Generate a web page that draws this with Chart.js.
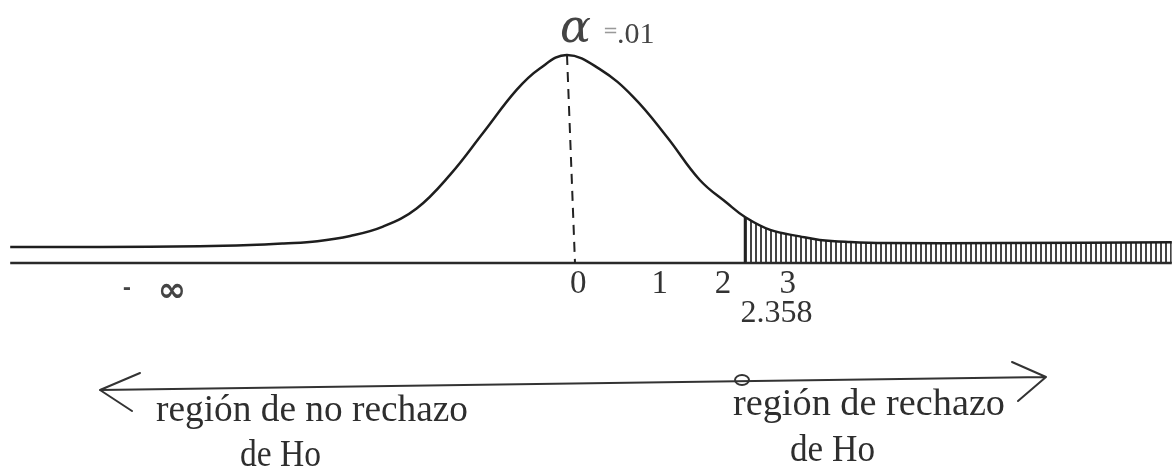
<!DOCTYPE html>
<html>
<head>
<meta charset="utf-8">
<script src="https://cdn.jsdelivr.net/npm/chart.js@4"></script>
<style>
  html, body { margin: 0; padding: 0; background: #ffffff; }
  #wrap { width: 1176px; height: 469px; position: relative; }
</style>
</head>
<body>
<div id="wrap"><canvas id="c"></canvas></div>
<script>
// ---- data ----
const curveX = [-6.96, -5.84, -4.59, -3.96, -3.54, -3.12, -2.71, -2.30, -1.88, -1.46, -1.05, -0.63, -0.34, 0, 0.41, 0.83, 1.25, 1.66, 2.00, 2.225, 2.54, 2.91, 3.16, 3.54, 3.98, 5.41, 7.56];
const curveY = [0.077, 0.077, 0.080, 0.086, 0.094, 0.105, 0.130, 0.175, 0.262, 0.425, 0.625, 0.832, 0.935, 1.0, 0.932, 0.798, 0.606, 0.399, 0.288, 0.221, 0.159, 0.128, 0.111, 0.101, 0.096, 0.096, 0.100];
const criticalX = 2.225;
const meanX = 0;
const axisEnds = [-6.96, 7.56];
const tickLabels = ['0', '1', '2', '3'];
const tickPositions = [0.14, 1.16, 1.95, 2.76];
const criticalLabel = '2.358';
const criticalLabelPos = 2.62;
const alphaLabel = '.01';
const leftRegion = ['región de no rechazo', 'de Ho'];
const rightRegion = ['región de rechazo', 'de Ho'];

// ---- build datasets ----
const curve = curveX.map((x, i) => ({ x: x, y: curveY[i] }));
const tail = curve.filter(p => p.x >= criticalX);
const peakY = curveY[curveX.indexOf(meanX)];
const critY = curveY[curveX.indexOf(criticalX)];

// hatch pattern
function hatch() {
  const c = document.createElement('canvas');
  c.width = 5; c.height = 8;
  const g = c.getContext('2d');
  g.fillStyle = 'rgba(35,35,35,0.85)';
  g.fillRect(0, 0, 2, 8);
  return g.createPattern(c, 'repeat');
}

function fitText(ctx, text, x, y, size, width, color) {
  ctx.save();
  ctx.font = size + 'px "Liberation Serif", "DejaVu Serif", serif';
  ctx.fillStyle = color || '#333';
  ctx.textBaseline = 'alphabetic';
  ctx.textAlign = 'left';
  const w = ctx.measureText(text).width;
  const s = width ? width / w : 1;
  ctx.translate(x, y);
  ctx.scale(s, 1);
  ctx.fillText(text, 0, 0);
  ctx.restore();
}

const annot = {
  id: 'annot',
  afterDatasetsDraw(chart) {
    const ctx = chart.ctx;
    const xs = chart.scales.x, ys = chart.scales.y;
    const X = v => xs.getPixelForValue(v);
    const Y = v => ys.getPixelForValue(v);
    ctx.save();
    // tick labels
    ctx.font = '33px "Liberation Serif", serif';
    ctx.fillStyle = '#333';
    ctx.textAlign = 'center';
    ctx.textBaseline = 'middle';
    tickLabels.forEach((t, i) => ctx.fillText(t, X(tickPositions[i]), Y(-0.101)));
    ctx.font = '32px "Liberation Serif", serif';
    ctx.fillText(criticalLabel, X(criticalLabelPos), Y(-0.245));
    // - infinity
    ctx.font = 'bold 20px "DejaVu Sans", sans-serif';
    ctx.fillStyle = '#444';
    ctx.fillText('-', X(-5.5), Y(-0.125));
    ctx.font = 'bold 34px "DejaVu Sans", sans-serif';
    ctx.fillText('∞', X(-4.94), Y(-0.14));
    // alpha
    ctx.textAlign = 'left';
    ctx.textBaseline = 'alphabetic';
    ctx.font = 'italic 46px "DejaVu Serif", serif';
    ctx.fillStyle = '#444';
    ctx.fillText('α', 560, 42);
    ctx.font = '18px "DejaVu Sans", sans-serif';
    ctx.fillStyle = '#999';
    ctx.fillText('=', 603, 36);
    ctx.font = '30px "Liberation Serif", serif';
    ctx.fillStyle = '#444';
    ctx.fillText(alphaLabel, 617, 43);
    ctx.restore();

    // bottom arrow
    ctx.save();
    ctx.strokeStyle = '#333';
    ctx.lineWidth = 2;
    ctx.lineCap = 'round';
    ctx.beginPath();
    ctx.moveTo(100, 390); ctx.lineTo(1046, 377);
    ctx.moveTo(100, 390); ctx.lineTo(140, 373);
    ctx.moveTo(100, 390); ctx.lineTo(132, 411);
    ctx.moveTo(1046, 377); ctx.lineTo(1012, 362);
    ctx.moveTo(1046, 377); ctx.lineTo(1018, 401);
    ctx.stroke();
    ctx.beginPath();
    ctx.ellipse(742, 380, 7, 5, 0, 0, Math.PI * 2);
    ctx.stroke();
    ctx.restore();

    fitText(ctx, leftRegion[0], 156, 421, 38, 312, '#2e2e2e');
    fitText(ctx, leftRegion[1], 240, 466, 38, 81, '#2e2e2e');
    fitText(ctx, rightRegion[0], 733, 415, 38, 272, '#2e2e2e');
    fitText(ctx, rightRegion[1], 790, 461, 38, 85, '#2e2e2e');
  }
};

new Chart(document.getElementById('c'), {
  type: 'line',
  data: {
    datasets: [
      { data: curve, borderColor: '#1e1e1e', borderWidth: 2.5, pointRadius: 0, tension: 0.4, fill: false },
      { data: [{ x: meanX, y: peakY }, { x: meanX + 0.1, y: 0 }], borderColor: '#222', borderWidth: 2, borderDash: [10, 7], pointRadius: 0, fill: false },
      { data: [{ x: criticalX, y: 0 }, { x: criticalX, y: critY }], borderColor: '#222', borderWidth: 2.5, pointRadius: 0, fill: false },
      { data: axisEnds.map(x => ({ x: x, y: 0 })), borderColor: '#2a2a2a', borderWidth: 2.5, pointRadius: 0, fill: false },
      { data: tail, borderWidth: 0, borderColor: 'rgba(0,0,0,0)', pointRadius: 0, tension: 0.4, fill: 'origin', backgroundColor: hatch() }
    ]
  },
  options: {
    responsive: true,
    maintainAspectRatio: false,
    animation: false,
    layout: { padding: 0 },
    plugins: { legend: { display: false }, tooltip: { enabled: false } },
    scales: {
      x: { type: 'linear', display: false, min: -7.0875, max: 7.6125 },
      y: { type: 'linear', display: false, min: -0.9904, max: 1.2644 }
    }
  },
  plugins: [annot]
});
</script>
</body>
</html>
